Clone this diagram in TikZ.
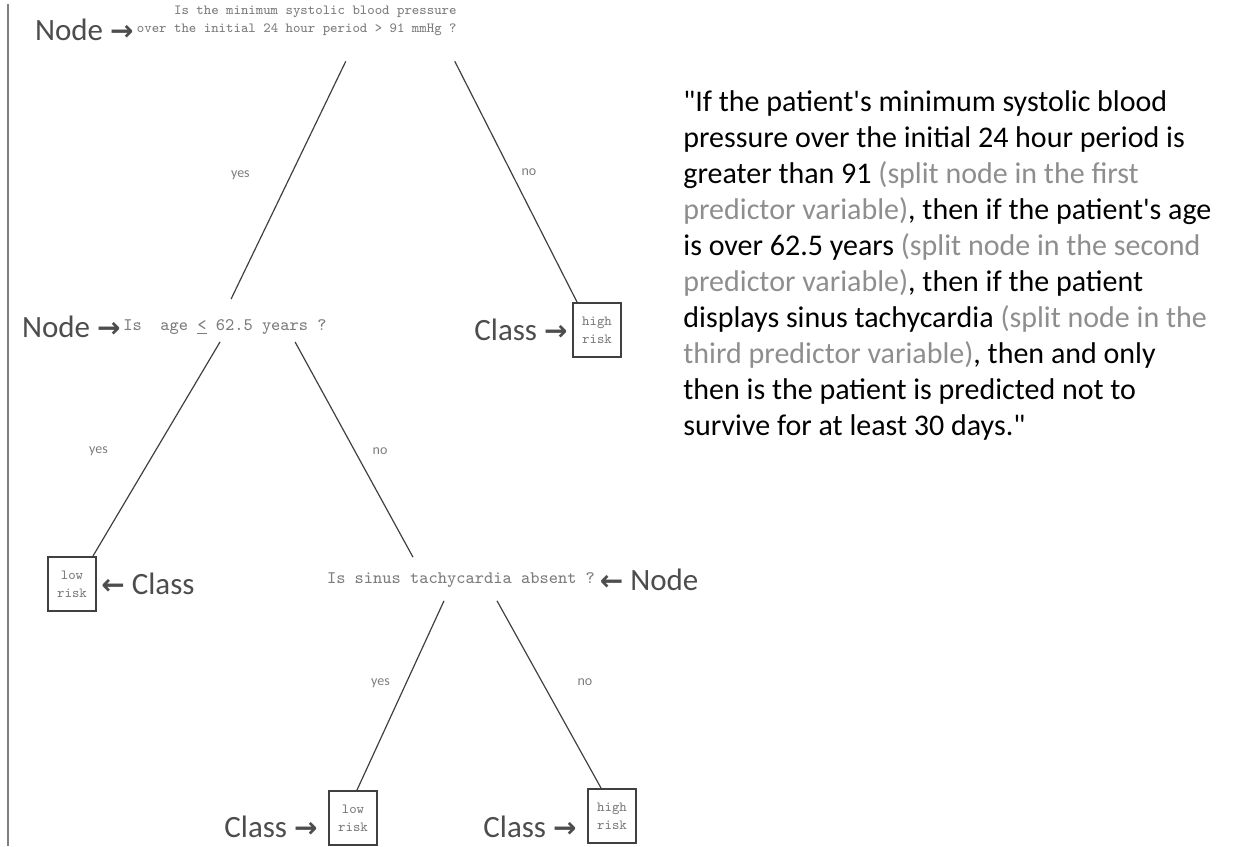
\documentclass[tikz,border=0pt]{standalone}
\usepackage{fontspec}
\setmainfont{Carlito}
\newfontfamily\arrowfont{DejaVu Sans}
\usetikzlibrary{positioning,calc}

\definecolor{treegray}{HTML}{7C7C7C}
\definecolor{notegray}{HTML}{4D4D4D}
\definecolor{splitgray}{HTML}{8E8E8E}

\newcommand{\toarr}{{\arrowfont\bfseries\fontsize{14}{14}\selectfont →}}
\newcommand{\fromarr}{{\arrowfont\bfseries\fontsize{14}{14}\selectfont ←}}
\newcommand{\aside}[1]{\textcolor{splitgray}{#1}}

\begin{document}
\begin{tikzpicture}[x=0.5pt,y=-0.5pt,
  split/.style={font=\ttfamily\fontsize{7}{9}\selectfont,text=treegray,inner sep=0pt},
  bigsplit/.style={split,font=\ttfamily\fontsize{8.8}{10}\selectfont},
  leaf/.style={draw=black!75,line width=1pt,align=center,
    font=\ttfamily\fontsize{7}{9}\selectfont,text=treegray,
    minimum width=24pt,minimum height=27pt,inner sep=1pt},
  branch/.style={draw=black!75,line width=0.6pt},
  lbl/.style={font=\rmfamily\fontsize{7}{8}\selectfont,text=treegray},
  note/.style={font=\fontsize{15.5}{17}\selectfont,text=notegray,inner sep=0pt}]
\useasboundingbox (0,0) rectangle (1258,846);
\draw[black!50,line width=0.8pt] (8,4) -- (8,846);

% split nodes
\node[split,align=right,anchor=east] (root) at (457,21)
  {Is the minimum systolic blood pressure\\over the initial 24 hour period > 91 mmHg ?};
\node[bigsplit,anchor=west] (age) at (123,327) {Is~ age \underline{<} 62.5 years ?};
\node[bigsplit] (sinus) at (461,580) {Is sinus tachycardia absent ?};

% class boxes
\node[leaf] (hr1) at (597,330) {high\\risk};
\node[leaf] (lr1) at (72,584) {low\\risk};
\node[leaf] (lr2) at (353,818) {low\\risk};
\node[leaf] (hr2) at (612,816) {high\\risk};

% annotations
\node[note,anchor=east] (n1) at (134,30) {Node \toarr};
\node[note,left=1pt of age] (n2) {Node \toarr};
\node[note,left=2pt of hr1] (n3) {Class \toarr};
\node[note,right=2pt of lr1] (n4) {\fromarr\ Class};
\node[note,right=2pt of sinus] (n5) {\fromarr\ Node};
\node[note,anchor=east] (n6) at (318,827) {Class \toarr};
\node[note,anchor=east] (n7) at (577,827) {Class \toarr};

% branches
\draw[branch] ([shift={(49,25)}]root.south) --
  node[lbl,xshift=-24pt,yshift=2.5pt] {yes} ([shift={(6,-20)}]age.north);
\draw[branch] ([shift={(158,25)}]root.south) --
  node[lbl,xshift=6.5pt,yshift=4.5pt] {no} ([shift={(5,0)}]hr1.north west);
\draw[branch] ([shift={(-5,7)}]age.south) --
  node[lbl,xshift=-29pt,yshift=-1pt] {yes} ([shift={(-4,0)}]lr1.north east);
\draw[branch] ([shift={(70,7)}]age.south) --
  node[lbl,xshift=13pt,yshift=-1pt] {no} ([shift={(-48,-15)}]sinus.north);
\draw[branch] ([shift={(-17,13)}]sinus.south) --
  node[lbl,xshift=-10pt,yshift=6pt] {yes} ([shift={(4,0)}]lr2.north);
\draw[branch] ([shift={(36,13)}]sinus.south) --
  node[lbl,xshift=18pt,yshift=6pt] {no} ([shift={(14,0)}]hr2.north west);

% reading of the tree
\node[font=\fontsize{15}{18}\selectfont,align=left,anchor=north west,inner sep=0pt] (quote) at (683,90)
  {\textquotedbl If the patient\textquotesingle s minimum systolic blood\\
   pressure over the initial 24 hour period is\\
   greater than 91 \aside{(split node in the first}\\
   \aside{predictor variable)}, then if the patient\textquotesingle s age\\
   is over 62.5 years \aside{(split node in the second}\\
   \aside{predictor variable)}, then if the patient\\
   displays sinus tachycardia \aside{(split node in the}\\
   \aside{third predictor variable)}, then and only\\
   then is the patient is predicted not to\\
   survive for at least 30 days.\textquotedbl};
\end{tikzpicture}
\end{document}
